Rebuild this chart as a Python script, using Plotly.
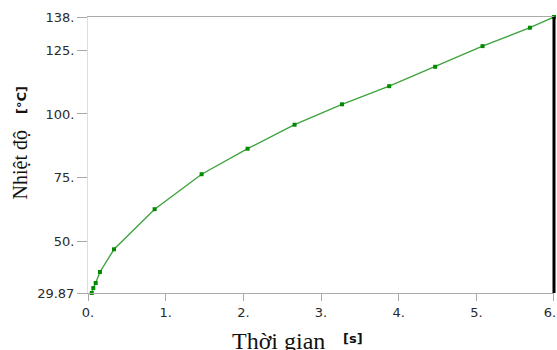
import plotly.graph_objects as go

time_s = [0.048, 0.068, 0.099, 0.154, 0.335, 0.858, 1.463, 2.055, 2.66, 3.27, 3.878, 4.47, 5.08, 5.69, 6.0]
temp_c = [29.87, 31.8, 33.8, 38.1, 47.0, 62.7, 76.4, 86.4, 95.8, 103.8, 110.9, 118.5, 126.6, 133.8, 138.0]

x_tickvals = [0, 1, 2, 3, 4, 5, 6]
x_ticktext = ["0.", "1.", "2.", "3.", "4.", "5.", "6.\u00a0\u00a0"]
y_tickvals = [29.87, 50, 75, 100, 125, 138]
y_ticktext = ["29.87", "50.", "75.", "100.", "125.", "138."]

x_title = "Thời gian"
x_unit = "[s]"
y_title = "Nhiệt độ"
y_unit = "[°C]"

fig = go.Figure()
fig.add_trace(go.Scatter(
    x=time_s, y=temp_c, mode="lines+markers",
    line=dict(color="#3fa33f", width=1.4),
    marker=dict(symbol="square", size=4, color="#008a00"),
    showlegend=False, cliponaxis=False,
))

tickfont = dict(family="DejaVu Sans", size=13, color="#2a2a2a")
title_font_x = dict(family="Liberation Serif", size=24, color="#111111")
title_font_y = dict(family="Liberation Serif", size=20, color="#111111")
unit_font = dict(family="DejaVu Sans", size=13, color="#111111", weight="bold")

fig.update_layout(
    width=557, height=350,
    margin=dict(l=88, r=3, t=17, b=57, autoexpand=False),
    paper_bgcolor="white", plot_bgcolor="white",
    xaxis=dict(range=[0, 6.0001], tickvals=x_tickvals, ticktext=x_ticktext,
               showgrid=False, zeroline=False, showline=True, linecolor="#aaaaaa",
               linewidth=1, mirror=True, ticks="outside", ticklen=7, tickcolor="#aaaaaa",
               tickfont=tickfont, ticklabeloverflow="allow", automargin=False),
    yaxis=dict(range=[29.87, 138], tickvals=y_tickvals, ticktext=y_ticktext,
               showgrid=False, zeroline=False, showline=True, linecolor="#dddddd",
               linewidth=1, ticks="outside", ticklen=10, tickcolor="#aaaaaa",
               tickfont=tickfont, automargin=False),
    shapes=[dict(type="line", xref="x domain", yref="y domain", x0=1, x1=1, y0=0, y1=1,
                 line=dict(color="black", width=3))],
    annotations=[
        dict(text=x_title, xref="paper", yref="paper", x=0.4097, y=-0.1196,
             xanchor="center", yanchor="top", showarrow=False, font=title_font_x),
        dict(text=x_unit, xref="paper", yref="paper", x=0.5687, y=-0.132,
             xanchor="center", yanchor="top", showarrow=False, font=unit_font),
        dict(text=y_title, xref="paper", yref="paper", x=-0.1438, y=0.4656,
             xanchor="center", yanchor="middle", textangle=-90, showarrow=False,
             font=title_font_y),
        dict(text=y_unit, xref="paper", yref="paper", x=-0.1438, y=0.699,
             xanchor="center", yanchor="middle", textangle=-90, showarrow=False,
             font=unit_font),
    ],
)

fig.write_html("out.html", config={"displayModeBar": False},
               post_script="document.body.style.margin='0';")
